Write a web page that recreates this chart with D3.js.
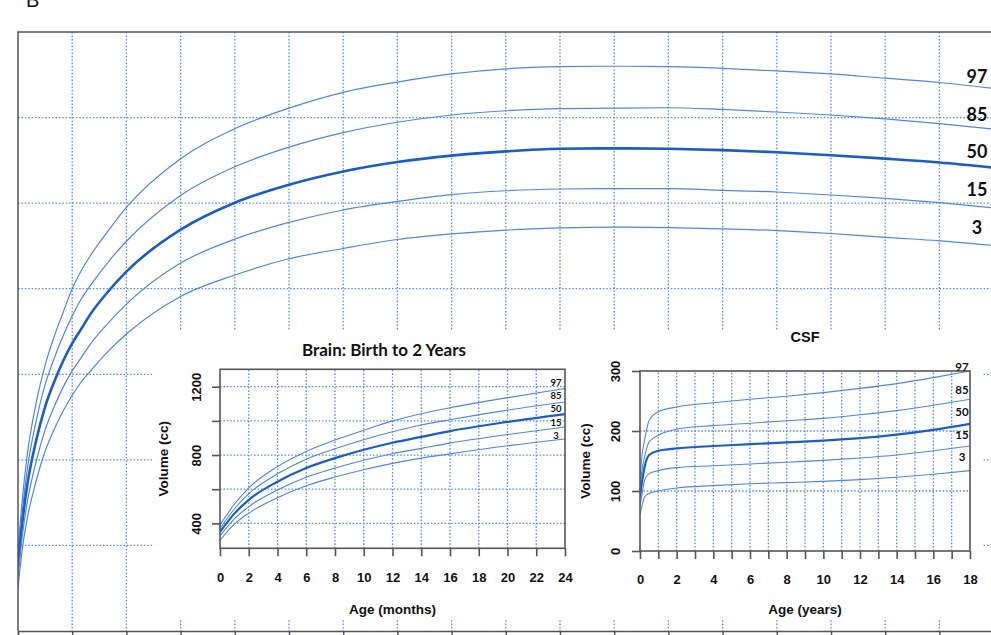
<!DOCTYPE html>
<html>
<head>
<meta charset="utf-8">
<script src="https://cdn.jsdelivr.net/npm/d3@7"></script>
<style>
  body { margin: 0; background: #fff; }
  svg { display: block; }
</style>
</head>
<body>
<div id="chart"></div>
<script>
// Brain and CSF volume growth percentiles (main: brain 0-18 yrs, insets: brain 0-24 months, CSF 0-18 yrs)
const percentiles = ['97', '85', '50', '15', '3'];

// brain volume (cc) by age in years
const brainAge = [0, 0.083, 0.167, 0.333, 0.5, 0.667, 0.833, 1, 1.167, 1.333, 1.667, 2,
  3, 4, 5, 6, 7, 8, 9, 10, 11, 12, 13, 14, 15, 16, 17, 18];
const brainP3 = [300, 395, 460, 550, 620, 671, 714, 751, 782, 807, 854, 894,
  982, 1032, 1070, 1094, 1115, 1128, 1137, 1142, 1144, 1143, 1140, 1136, 1129, 1120, 1112, 1101];
const brainP15 = [327, 426, 498, 595, 670, 724, 770, 808, 839, 870, 920, 964,
  1060, 1116, 1155, 1184, 1204, 1220, 1229, 1233, 1234, 1234, 1230, 1226, 1219, 1211, 1201, 1189];
const brainP50 = [350, 457, 538, 644, 724, 782, 831, 872, 906, 940, 994, 1040,
  1138, 1201, 1243, 1274, 1296, 1311, 1321, 1327, 1328, 1327, 1324, 1319, 1312, 1304, 1295, 1283];
const brainP85 = [370, 484, 574, 690, 776, 837, 890, 936, 976, 1007, 1063, 1111,
  1218, 1285, 1331, 1365, 1389, 1406, 1416, 1421, 1422, 1423, 1419, 1413, 1406, 1397, 1386, 1373];
const brainP97 = [390, 512, 608, 732, 821, 888, 945, 1000, 1042, 1077, 1136, 1190,
  1304, 1374, 1422, 1459, 1483, 1502, 1514, 1519, 1520, 1519, 1515, 1509, 1502, 1492, 1482, 1468];

// CSF volume (cc) by age in years
const csfAge = [0, 0.1, 0.25, 0.5, 1, 2, 4, 6, 8, 10, 12, 14, 16, 18];
const csfP3 = [60, 74, 90, 96, 100, 105, 109, 112, 114, 116, 119, 123, 128, 134];
const csfP15 = [75, 92, 118, 129, 134, 139, 142, 145, 148, 151, 155, 160, 167, 175];
const csfP50 = [90, 113, 140, 160, 167, 171, 175, 178, 181, 184, 188, 194, 202, 212];
const csfP85 = [105, 133, 157, 182, 193, 203, 209, 213, 217, 221, 227, 234, 243, 253];
const csfP97 = [120, 157, 185, 218, 232, 240, 247, 253, 258, 264, 271, 279, 289, 300];

// ticks
const mainXTicks = [0, 1, 2, 3, 4, 5, 6, 7, 8, 9, 10, 11, 12, 13, 14, 15, 16, 17, 18];
const mainYTicks = [400, 600, 800, 1000, 1200, 1400];
const brainXTicks = [0, 2, 4, 6, 8, 10, 12, 14, 16, 18, 20, 22, 24];
const brainYTicks = [400, 600, 800, 1000, 1200];
const brainYLabels = [400, 800, 1200];
const csfXTicks = [0, 1, 2, 3, 4, 5, 6, 7, 8, 9, 10, 11, 12, 13, 14, 15, 16, 17, 18];
const csfXLabels = [0, 2, 4, 6, 8, 10, 12, 14, 16, 18];
const csfYTicks = [0, 100, 200, 300];

(function() {
  const W = 991, H = 635;
  const gridColor = '#5a8fe6';
  const thinColor = '#4f86df';
  const medColor = '#1a5cc8';
  const axisColor = '#555';
  const arial = '"Liberation Sans", Arial, sans-serif';
  const calibri = 'Lato, "Open Sans", sans-serif';

  const brainCols = { '97': brainP97, '85': brainP85, '50': brainP50, '15': brainP15, '3': brainP3 };
  const csfCols = { '97': csfP97, '85': csfP85, '50': csfP50, '15': csfP15, '3': csfP3 };

  const brainSeries = percentiles.map(p => ({
    p: p,
    values: brainAge.map((a, i) => ({ age: a, v: brainCols[p][i] }))
  }));
  const csfSeries = percentiles.map(p => ({
    p: p,
    values: csfAge.map((a, i) => ({ age: a, v: csfCols[p][i] }))
  }));

  const svg = d3.select('#chart')
    .append('svg')
    .attr('width', W)
    .attr('height', H);

  svg.append('rect').attr('width', W).attr('height', H).attr('fill', '#fff');

  const defs = svg.append('defs');

  function dotted(sel) {
    sel.attr('stroke', gridColor)
      .attr('stroke-width', 1.3)
      .attr('stroke-dasharray', '1.6,1.8');
  }

  // ---------- main chart ----------
  const x = d3.scaleLinear().domain([0, 18]).range([18, 993.6]);
  const y = d3.scaleLinear().domain([200, 1600]).range([631, 32]);

  const main = svg.append('g');

  main.selectAll('.vgrid')
    .data(mainXTicks.filter(d => d > 0 && d < 18))
    .enter().append('line')
    .attr('x1', d => x(d)).attr('x2', d => x(d))
    .attr('y1', y(1600)).attr('y2', y(200))
    .call(dotted);

  main.selectAll('.hgrid')
    .data(mainYTicks)
    .enter().append('line')
    .attr('x1', x(0)).attr('x2', x(18))
    .attr('y1', d => y(d)).attr('y2', d => y(d))
    .call(dotted);

  defs.append('clipPath').attr('id', 'clipMain')
    .append('rect')
    .attr('x', x(0)).attr('y', y(1600))
    .attr('width', x(18) - x(0)).attr('height', y(200) - y(1600));

  const line = d3.line()
    .x(d => x(d.age))
    .y(d => y(d.v))
    .curve(d3.curveMonotoneX);

  main.append('g').attr('clip-path', 'url(#clipMain)')
    .selectAll('path')
    .data(brainSeries)
    .enter().append('path')
    .attr('d', d => line(d.values))
    .attr('fill', 'none')
    .attr('stroke', d => d.p === '50' ? medColor : thinColor)
    .attr('stroke-width', d => d.p === '50' ? 2.6 : 1.2);

  main.append('path')
    .attr('d', `M${x(0)},${y(200)}V${y(1600)}H${x(18)}`)
    .attr('fill', 'none')
    .attr('stroke', axisColor)
    .attr('stroke-width', 1.5);

  main.append('g')
    .attr('transform', `translate(0, ${y(200)})`)
    .call(d3.axisBottom(x).tickValues(mainXTicks).tickSize(7).tickFormat(''))
    .call(g => g.selectAll('path, line').attr('stroke', axisColor).attr('stroke-width', 1.5));

  main.selectAll('.plabel')
    .data(percentiles)
    .enter().append('text')
    .attr('x', 977)
    .attr('y', (d, i) => 76 + i * 37.7)
    .attr('text-anchor', 'middle')
    .attr('dominant-baseline', 'central')
    .style('font-family', calibri)
    .style('font-weight', 'bold')
    .style('font-size', '18px')
    .style('fill', '#111')
    .text(d => d);

  svg.append('text')
    .attr('x', 26).attr('y', 7)
    .style('font-family', arial)
    .style('font-size', '20px')
    .style('fill', '#111')
    .text('B');

  // white backing for the two insets
  svg.append('rect')
    .attr('x', 152).attr('y', 330)
    .attr('width', 830).attr('height', 290)
    .attr('fill', '#fff');

  // generic inset drawer
  function drawInset(opt) {
    const g = svg.append('g');
    const ix = opt.x, iy = opt.y;
    const [x0, x1] = ix.range();
    const [y0, y1] = iy.range();

    g.selectAll('.vg')
      .data(opt.xGrid)
      .enter().append('line')
      .attr('x1', d => ix(d)).attr('x2', d => ix(d))
      .attr('y1', y0).attr('y2', y1)
      .call(dotted);
    g.selectAll('.hg')
      .data(opt.yGrid)
      .enter().append('line')
      .attr('x1', x0).attr('x2', x1)
      .attr('y1', d => iy(d)).attr('y2', d => iy(d))
      .call(dotted);

    defs.append('clipPath').attr('id', opt.id)
      .append('rect')
      .attr('x', x0).attr('y', y1)
      .attr('width', x1 - x0).attr('height', y0 - y1);

    const ln = d3.line()
      .x(d => ix(opt.ageFn(d.age)))
      .y(d => iy(d.v))
      .curve(d3.curveMonotoneX);

    g.append('g').attr('clip-path', `url(#${opt.id})`)
      .selectAll('path')
      .data(opt.series)
      .enter().append('path')
      .attr('d', d => ln(d.values.filter(opt.keep)))
      .attr('fill', 'none')
      .attr('stroke', d => d.p === '50' ? medColor : thinColor)
      .attr('stroke-width', d => d.p === '50' ? 2.2 : 1.1);

    g.append('rect')
      .attr('x', x0).attr('y', y1)
      .attr('width', x1 - x0).attr('height', y0 - y1)
      .attr('fill', 'none')
      .attr('stroke', axisColor)
      .attr('stroke-width', 1.6);

    // x axis
    g.append('g')
      .attr('transform', `translate(0, ${y0})`)
      .call(d3.axisBottom(ix).tickValues(opt.xTicks).tickSize(8).tickPadding(16)
        .tickFormat(d => opt.xLabels.includes(d) ? d : ''))
      .call(a => a.select('.domain').remove())
      .call(a => a.selectAll('line').attr('stroke', axisColor).attr('stroke-width', 1.6))
      .call(a => a.selectAll('text')
        .style('font-family', arial).style('font-weight', 'bold')
        .style('font-size', '13px').style('fill', '#111'));

    // y axis with rotated labels
    g.append('g')
      .attr('transform', `translate(${x0}, 0)`)
      .call(d3.axisLeft(iy).tickValues(opt.yTicks).tickSize(8)
        .tickFormat(d => opt.yLabels.includes(d) ? d : ''))
      .call(a => a.select('.domain').remove())
      .call(a => a.selectAll('line').attr('stroke', axisColor).attr('stroke-width', 1.6))
      .call(a => a.selectAll('text')
        .attr('x', null).attr('dy', null)
        .attr('transform', `translate(${-opt.yLabelOffset}, 0) rotate(-90)`)
        .attr('text-anchor', 'middle')
        .style('font-family', arial).style('font-weight', 'bold')
        .style('font-size', '13px').style('fill', '#111'));

    // percentile labels
    g.selectAll('.pl')
      .data(percentiles)
      .enter().append('text')
      .attr('x', opt.labelX)
      .attr('y', (d, i) => opt.labelY + i * opt.labelStep)
      .attr('text-anchor', 'middle')
      .attr('dominant-baseline', 'central')
      .style('font-family', calibri)
      .style('font-weight', 'bold')
      .style('font-size', opt.labelSize)
      .style('fill', '#111')
      .text(d => d);

    g.append('text')
      .attr('x', opt.titleX).attr('y', opt.titleY)
      .attr('text-anchor', 'middle')
      .attr('dominant-baseline', 'central')
      .style('font-family', opt.titleFont)
      .style('font-weight', 'bold')
      .style('font-size', opt.titleSize)
      .style('fill', '#111')
      .text(opt.title);

    g.append('text')
      .attr('x', (x0 + x1) / 2).attr('y', 609)
      .attr('text-anchor', 'middle')
      .attr('dominant-baseline', 'central')
      .style('font-family', arial)
      .style('font-weight', 'bold')
      .style('font-size', '13.5px')
      .style('fill', '#111')
      .text(opt.xTitle);

    g.append('text')
      .attr('transform', `translate(${opt.yTitleX}, ${(y0 + y1) / 2}) rotate(-90)`)
      .attr('text-anchor', 'middle')
      .attr('dominant-baseline', 'central')
      .style('font-family', arial)
      .style('font-weight', 'bold')
      .style('font-size', '13.5px')
      .style('fill', '#111')
      .text('Volume (cc)');
  }

  // brain birth to 2 years (months)
  drawInset({
    id: 'clipBrain',
    x: d3.scaleLinear().domain([0, 24]).range([220, 565]),
    y: d3.scaleLinear().domain([254, 1302]).range([548.3, 369.3]),
    series: brainSeries,
    keep: d => d.age <= 2,
    ageFn: a => a * 12,
    xGrid: brainXTicks.filter(d => d > 0 && d < 24),
    yGrid: brainYTicks,
    xTicks: brainXTicks,
    xLabels: brainXTicks,
    yTicks: brainYTicks,
    yLabels: brainYLabels,
    yLabelOffset: 19,
    labelX: 556, labelY: 382, labelStep: 13.4, labelSize: '9.5px',
    title: 'Brain: Birth to 2 Years', titleX: 384, titleY: 349,
    titleFont: calibri, titleSize: '17px',
    xTitle: 'Age (months)', yTitleX: 163
  });

  // CSF 0-18 years
  drawInset({
    id: 'clipCsf',
    x: d3.scaleLinear().domain([0, 18]).range([640, 970]),
    y: d3.scaleLinear().domain([0, 300]).range([551, 371]),
    series: csfSeries,
    keep: d => true,
    ageFn: a => a,
    xGrid: csfXTicks.filter(d => d > 0 && d < 18),
    yGrid: [100, 200],
    xTicks: csfXTicks,
    xLabels: csfXLabels,
    yTicks: csfYTicks,
    yLabels: csfYTicks,
    yLabelOffset: 20.5,
    labelX: 962, labelY: 366.5, labelStep: 22.6, labelSize: '11.5px',
    title: 'CSF', titleX: 805, titleY: 337,
    titleFont: arial, titleSize: '14.5px',
    xTitle: 'Age (years)', yTitleX: 585
  });
})();
</script>
</body>
</html>
